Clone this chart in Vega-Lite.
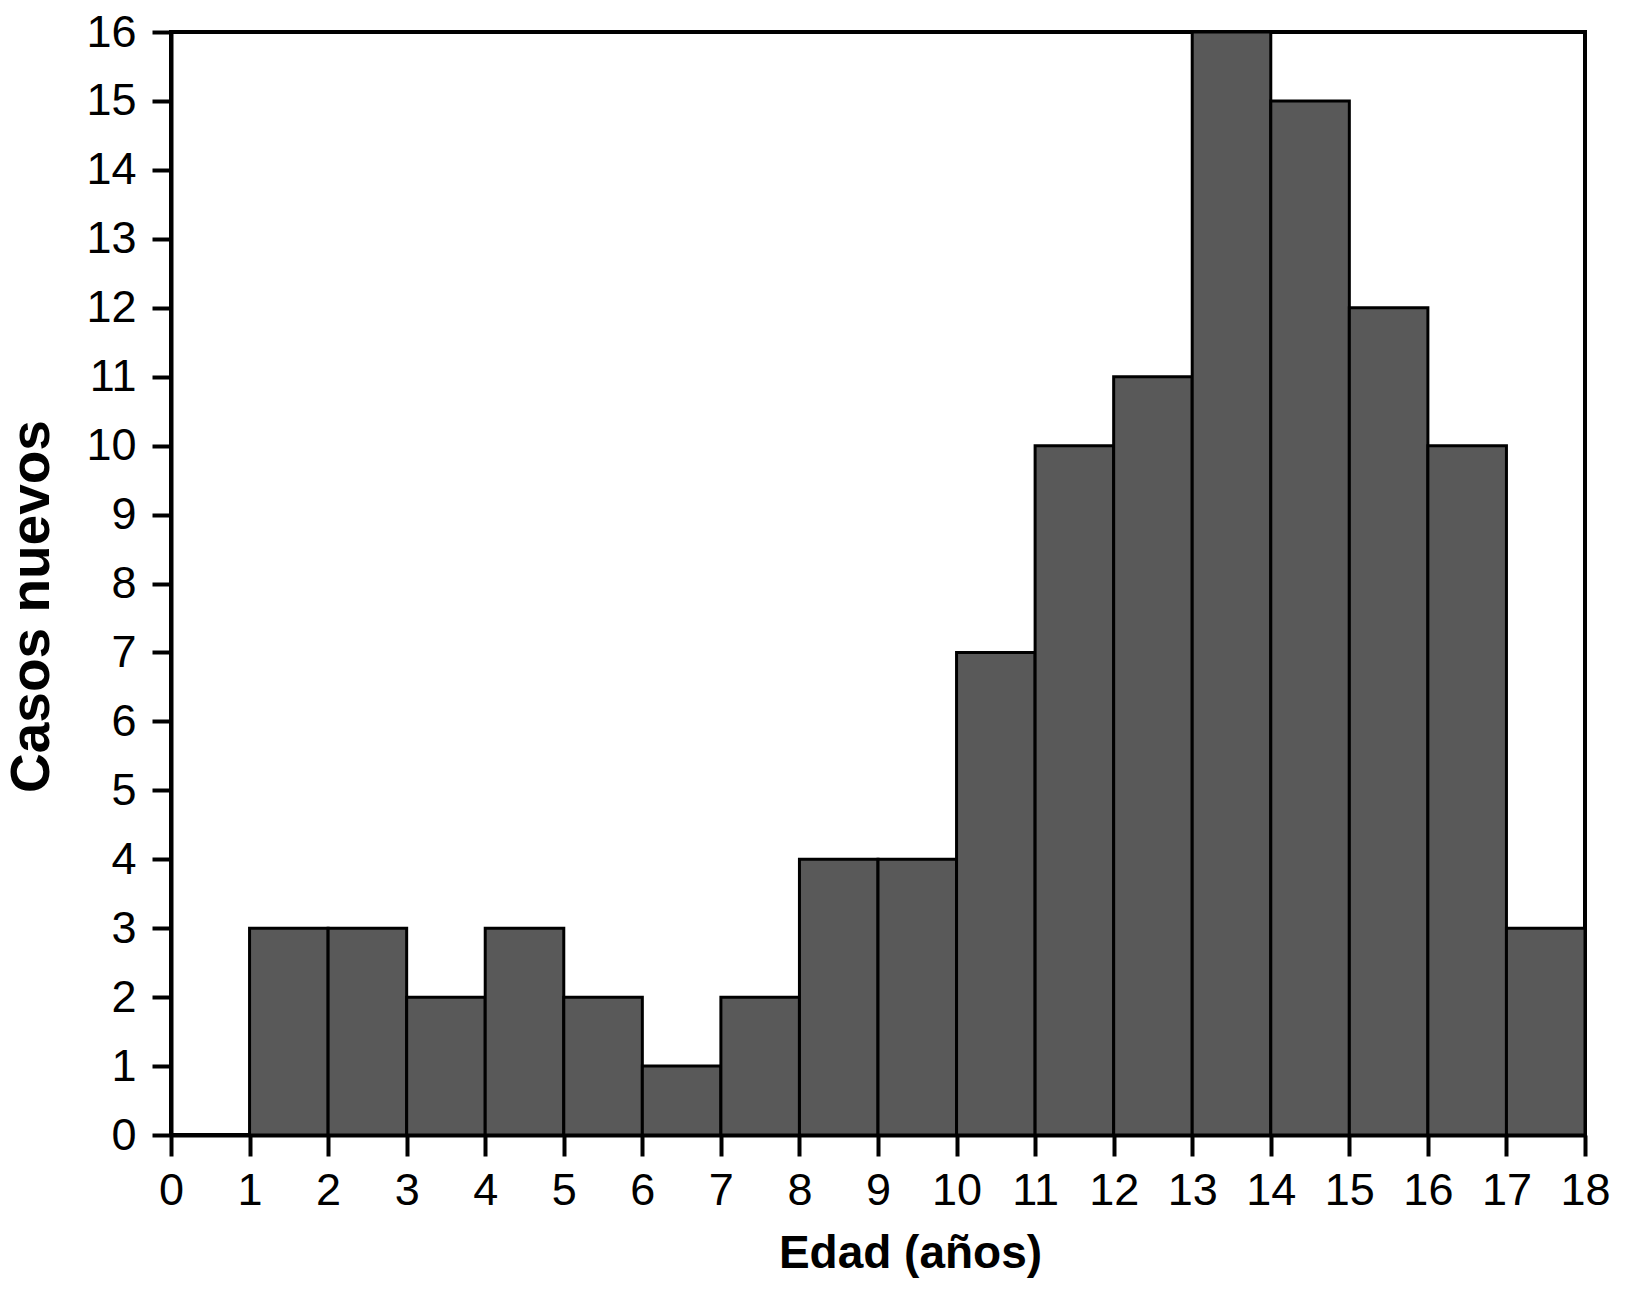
{
  "$schema": "https://vega.github.io/schema/vega-lite/v6.json",
  "width": 1414,
  "height": 1103,
  "autosize": {"type": "none"},
  "padding": {"left": 171, "top": 32, "right": 40, "bottom": 157},
  "background": "white",
  "config": {
    "font": "Liberation Sans",
    "view": {"stroke": "black", "strokeWidth": 4},
    "axis": {"grid": false}
  },
  "data": {
    "values": [
      {"start": 1, "end": 2, "casos": 3},
      {"start": 2, "end": 3, "casos": 3},
      {"start": 3, "end": 4, "casos": 2},
      {"start": 4, "end": 5, "casos": 3},
      {"start": 5, "end": 6, "casos": 2},
      {"start": 6, "end": 7, "casos": 1},
      {"start": 7, "end": 8, "casos": 2},
      {"start": 8, "end": 9, "casos": 4},
      {"start": 9, "end": 10, "casos": 4},
      {"start": 10, "end": 11, "casos": 7},
      {"start": 11, "end": 12, "casos": 10},
      {"start": 12, "end": 13, "casos": 11},
      {"start": 13, "end": 14, "casos": 16},
      {"start": 14, "end": 15, "casos": 15},
      {"start": 15, "end": 16, "casos": 12},
      {"start": 16, "end": 17, "casos": 10},
      {"start": 17, "end": 18, "casos": 3}
    ]
  },
  "mark": {"type": "rect", "fill": "#595959", "stroke": "black", "strokeWidth": 3},
  "encoding": {
    "x": {
      "field": "start",
      "type": "quantitative",
      "scale": {"domain": [0, 18], "nice": false},
      "axis": {
        "title": "Edad (años)",
        "values": [0,1,2,3,4,5,6,7,8,9,10,11,12,13,14,15,16,17,18],
        "format": "d",
        "domainColor": "black",
        "domainWidth": 4,
        "tickColor": "black",
        "tickWidth": 4,
        "tickSize": 21,
        "labelFontSize": 45,
        "labelColor": "black",
        "labelPadding": 12,
        "labelFlush": false,
        "labelOverlap": false,
        "titleFontSize": 46,
        "titleFontWeight": "bold",
        "titleColor": "black",
        "titlePadding": 18,
        "titleX": 739
      }
    },
    "x2": {"field": "end"},
    "y": {
      "field": "casos",
      "type": "quantitative",
      "scale": {"domain": [0, 16], "nice": false},
      "axis": {
        "title": "Casos nuevos",
        "values": [0,1,2,3,4,5,6,7,8,9,10,11,12,13,14,15,16],
        "format": "d",
        "domainColor": "black",
        "domainWidth": 4,
        "tickColor": "black",
        "tickWidth": 4,
        "tickSize": 19,
        "labelFontSize": 45,
        "labelColor": "black",
        "labelPadding": 16,
        "labelFlush": false,
        "labelOverlap": false,
        "titleFontSize": 55,
        "titleFontWeight": "bold",
        "titleColor": "black",
        "titlePadding": 25,
        "titleY": 574
      }
    },
    "y2": {"datum": 0}
  }
}
